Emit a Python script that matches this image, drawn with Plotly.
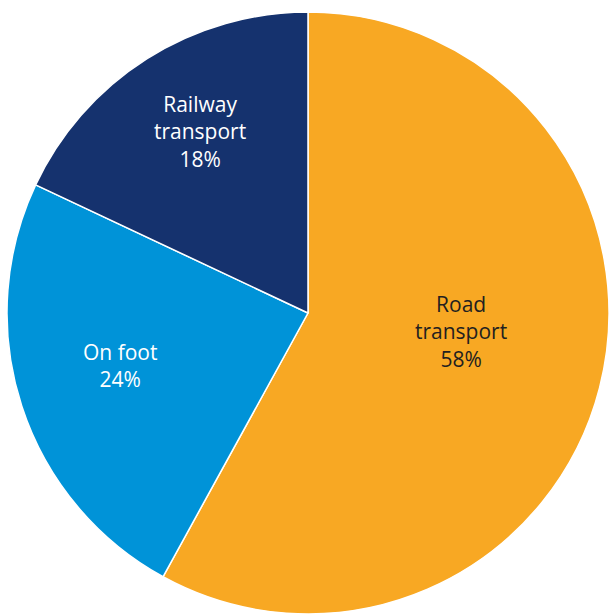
import plotly.graph_objects as go

# data
labels = ["Road<br>transport", "On foot", "Railway<br>transport"]
shares = [58, 24, 18]
colors = ["#F8A823", "#0093D8", "#15326E"]
text_colors = ["#231F20", "white", "white"]

W, H = 609, 614

fig = go.Figure()
fig.add_trace(go.Pie(
    labels=labels, values=shares, sort=False, direction="clockwise", rotation=0,
    marker=dict(colors=colors, line=dict(color="white", width=1.5)),
    textinfo="none", hoverinfo="label+percent",
    domain=dict(x=[7 / W, 1], y=[0, 1 - 12 / H]),
))

# label positions in pixels (centre of each text block)
label_px = [(461, 331), (120, 365), (200, 131)]
for lab, val, tc, (px, py) in zip(labels, shares, text_colors, label_px):
    fig.add_annotation(
        x=px / W, y=1 - py / H, xref="paper", yref="paper",
        xanchor="center", yanchor="middle",
        text=f"{lab}<br>{val}%", showarrow=False,
        font=dict(family="Open Sans", size=21, color=tc), align="center",
    )

fig.update_layout(
    width=W, height=H, margin=dict(l=0, r=0, t=0, b=0),
    paper_bgcolor="white", showlegend=False,
)
fig.write_html("out.html", config={"displayModeBar": False},
               post_script="document.body.style.margin='0';")
